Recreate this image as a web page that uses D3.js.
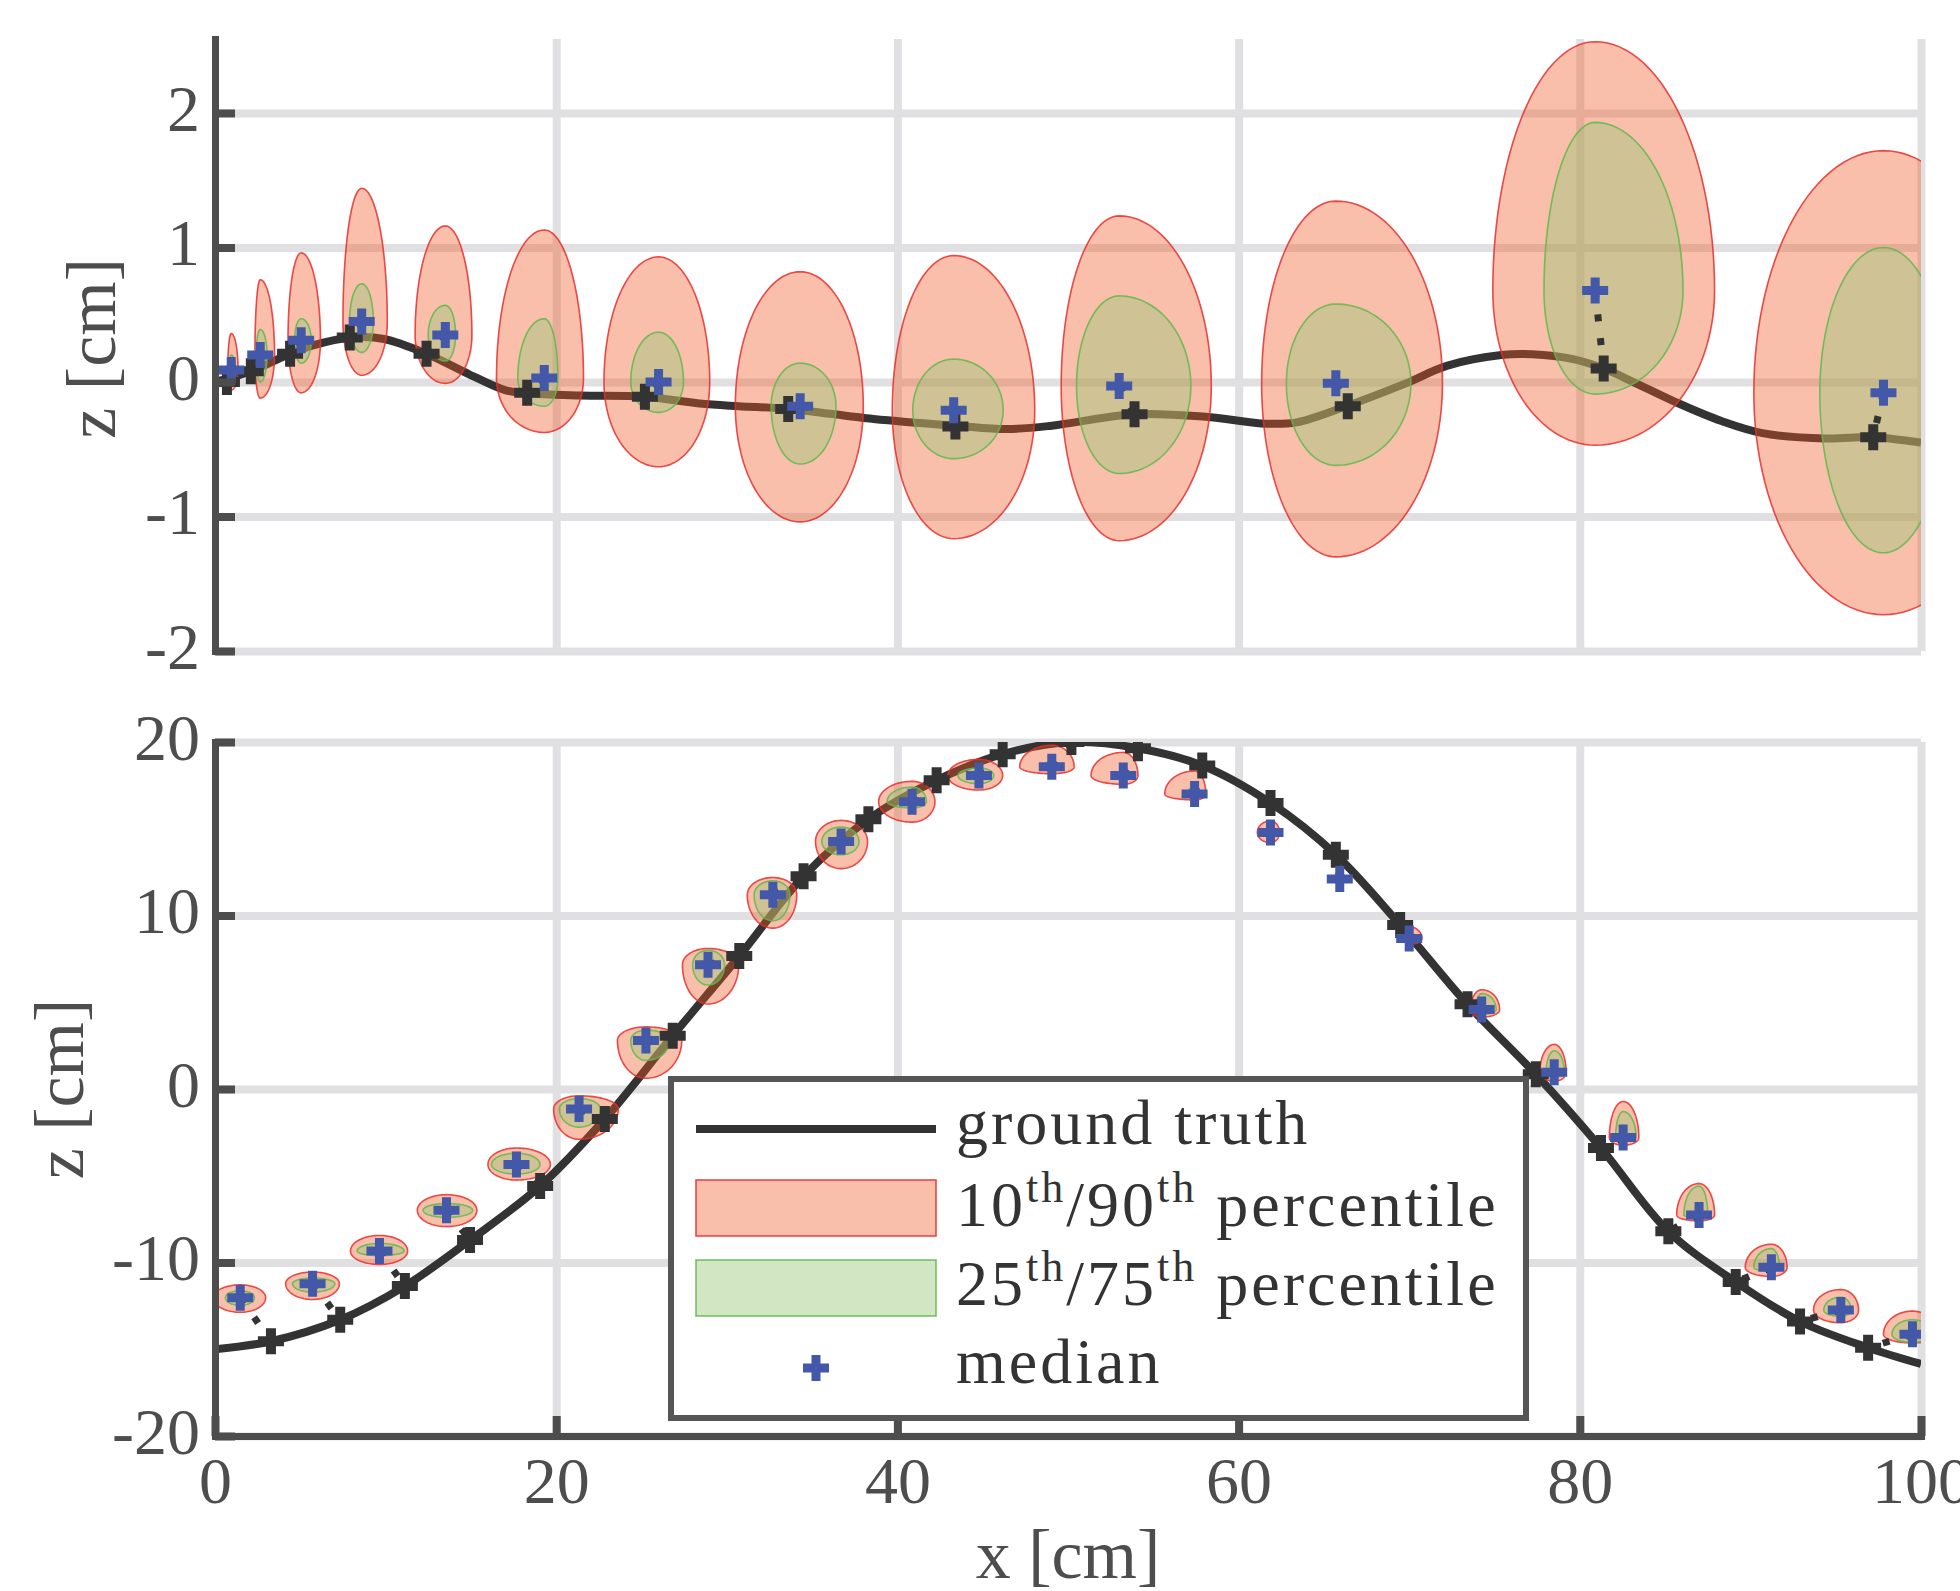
<!DOCTYPE html>
<html>
<head>
<meta charset="utf-8">
<script src="https://cdn.jsdelivr.net/npm/d3@7"></script>
<style>
  body { margin: 0; background: #fff; }
  text { font-family: "Liberation Serif", "DejaVu Serif", serif; }
</style>
</head>
<body>
<svg id="chart"></svg>
<script>
var xTicks = [0, 20, 40, 60, 80, 100];
var topYTicks = [-2, -1, 0, 1, 2];
var botYTicks = [-20, -10, 0, 10, 20];

// top panel: ground truth curve, ground truth samples, medians
var topLineX = [0, 2.1, 4.4, 5.7, 8.0, 9.9, 12.4, 14.9, 17.0, 18.3, 21.4, 25.2, 28.4, 30.7, 33.6, 38.6, 43.4, 46.4, 49.05, 53.9, 58.2, 61.6, 63.4, 66.3, 69.8, 72.2, 75.4, 77.2, 79.6, 81.4, 83.3, 85.8, 88.3, 90.7, 94.4, 97.2, 100];
var topLineZ = [0, 0.08, 0.21, 0.27, 0.33, 0.32, 0.21, 0.057, -0.06, -0.083, -0.10, -0.11, -0.16, -0.18, -0.20, -0.275, -0.325, -0.35, -0.325, -0.24, -0.26, -0.31, -0.30, -0.18, -0.01, 0.12, 0.20, 0.206, 0.17, 0.10, -0.01, -0.16, -0.29, -0.38, -0.42, -0.41, -0.45];
var topMarkX = [0.7, 2.1, 4.4, 7.9, 12.4, 18.3, 25.2, 33.6, 43.4, 53.9, 66.4, 81.4, 97.2];
var topMarkZ = [0.0, 0.08, 0.21, 0.33, 0.21, -0.08, -0.11, -0.20, -0.33, -0.24, -0.18, 0.10, -0.41];
var topMedX = [0.95, 2.65, 5.05, 8.6, 13.5, 19.3, 26.0, 34.3, 43.3, 53.0, 65.7, 80.9, 97.8];
var topMedZ = [0.09, 0.20, 0.31, 0.45, 0.35, 0.03, 0.0, -0.18, -0.21, -0.03, -0.01, 0.68, -0.08];
// [xmin, xmax, zmin, zmax]
var topOuter = [[0.75, 1.35, -0.06, 0.36], [2.34, 3.49, -0.12, 0.76], [4.28, 6.18, -0.08, 0.96], [7.5, 10.1, 0.05, 1.44],
  [11.73, 15.06, -0.01, 1.16], [16.5, 21.6, -0.375, 1.13], [22.8, 29.0, -0.63, 0.93], [30.5, 38.0, -1.04, 0.82],
  [39.7, 48.05, -1.165, 0.94], [49.6, 58.4, -1.18, 1.235], [61.35, 71.95, -1.30, 1.345], [74.9, 87.9, -0.47, 2.53],
  [90.2, 105.4, -1.73, 1.72]];
var topInner = [[0.85, 1.2, 0.0, 0.2], [2.42, 3.05, 0.0, 0.39], [4.67, 5.64, 0.14, 0.47], [7.89, 9.28, 0.22, 0.73],
  [12.5, 14.1, 0.156, 0.57], [17.75, 20.1, -0.18, 0.47], [24.37, 27.46, -0.226, 0.37], [32.6, 36.4, -0.61, 0.14],
  [40.9, 46.2, -0.57, 0.17], [50.5, 57.2, -0.68, 0.64], [62.8, 70.1, -0.62, 0.58], [77.9, 86.05, -0.09, 1.93],
  [94.07, 101.5, -1.27, 1.0]];

// bottom panel
var botLineX = [0, 3.28, 7.34, 11.13, 14.95, 19.06, 22.85, 26.83, 30.73, 34.5, 38.3, 42.3, 46.17, 50.2, 54.1, 57.87, 61.87, 65.7, 69.47, 73.42, 77.42, 81.24, 85.19, 89.14, 92.91, 96.9, 100];
var botLineZ = [-15.0, -14.54, -13.3, -11.36, -8.71, -5.59, -1.73, 3.07, 7.66, 12.26, 15.55, 17.8, 19.3, 20.0, 19.64, 18.64, 16.49, 13.5, 9.45, 4.88, 0.85, -3.4, -8.2, -11.12, -13.4, -14.91, -15.85];
var botMarkX = botLineX.slice(1, -1);
var botMarkZ = botLineZ.slice(1, -1);
var botMedX = [1.48, 5.72, 9.64, 13.57, 17.67, 21.34, 25.26, 28.9, 32.7, 36.7, 40.86, 44.78, 49.05, 53.24, 57.42, 61.87, 65.93, 70.0, 74.25, 78.5, 82.54, 86.99, 91.23, 95.3, 99.5];
var botMedZ = [-12.03, -11.22, -9.34, -6.99, -4.35, -1.15, 2.8, 7.16, 11.19, 14.27, 16.56, 18.07, 18.57, 18.07, 17.0, 14.78, 12.1, 8.67, 4.58, 0.96, -2.8, -7.26, -10.28, -12.74, -14.14];
var botOuter = [[-0.1, 2.97, -12.87, -11.29], [4.14, 7.29, -12.13, -10.55], [7.94, 11.29, -10.11, -8.44], [11.86, 15.35, -7.93, -6.09],
  [16.0, 19.66, -5.25, -3.4], [19.85, 23.64, -2.9, -0.39], [23.59, 27.36, 0.62, 3.58], [27.4, 30.7, 4.9, 8.1],
  [31.2, 34.1, 9.27, 12.19], [35.2, 38.25, 12.7, 15.48], [38.9, 42.2, 15.38, 17.73], [42.96, 46.17, 17.23, 19.0],
  [47.17, 50.36, 18.17, 19.81], [51.35, 54.1, 17.56, 19.4], [55.67, 58.08, 16.66, 18.33], [61.1, 62.4, 14.2, 15.45],
  [65.7, 66.2, 11.9, 12.3], [69.9, 70.75, 8.34, 9.35], [73.6, 75.3, 4.14, 5.72], [77.66, 79.2, 0.45, 2.57],
  [81.73, 83.46, -3.24, -0.72], [85.68, 87.9, -7.6, -5.45], [89.7, 92.15, -10.8, -8.95], [93.7, 96.34, -13.47, -11.56],
  [97.8, 101.0, -14.64, -12.8]];
var botInner = [[0.61, 2.31, -12.47, -11.63], [4.54, 7.02, -11.7, -10.9], [8.33, 11.08, -9.6, -8.9], [12.2, 15.1, -7.4, -6.6],
  [16.2, 19.05, -4.9, -3.7], [20.19, 22.59, -2.2, -0.55], [24.37, 26.65, 1.65, 3.4], [28.0, 29.87, 5.99, 8.0],
  [31.6, 33.7, 9.7, 12.0], [35.57, 37.75, 13.5, 15.1], [39.4, 41.7, 16.2, 17.4], [43.55, 45.65, 17.6, 18.5],
  [48.6, 49.5, 18.3, 18.9], [53.0, 53.6, 17.9, 18.5], [57.0, 57.7, 16.8, 17.4], [61.7, 62.1, 14.6, 15.0],
  [65.85, 66.05, 12.0, 12.2], [69.95, 70.4, 8.5, 9.0], [73.9, 75.1, 4.3, 5.5], [78.03, 79.1, 0.7, 2.2],
  [82.1, 83.3, -2.9, -1.3], [86.1, 87.5, -7.4, -5.6], [90.2, 91.7, -10.5, -9.2], [94.3, 95.9, -13.1, -12.0],
  [98.3, 100.7, -14.6, -13.3]];

var W = 1960, H = 1591;
var axisColor = '#4d4d4d', dark = '#333333', blue = '#4358a8', gridColor = '#e0e0e2';
var outerFill = 'rgb(239,87,31)', outerEdge = 'rgb(232,45,45)';
var innerFill = 'rgb(153,198,121)', innerEdge = 'rgb(95,185,75)';

var svg = d3.select('#chart').attr('width', W).attr('height', H);
svg.append('rect').attr('width', W).attr('height', H).attr('fill', '#fff');
var defs = svg.append('defs');

var x = d3.scaleLinear().domain([0, 100]).range([215, 1921]);
var yTop = d3.scaleLinear().domain([-2, 2.55]).range([651, 39]);
var yBot = d3.scaleLinear().domain([-20, 20]).range([1436, 742]);

var plusPath = function (s) { return 'M' + (-s) + ',0H' + s + 'M0,' + (-s) + 'V' + s; };

// egg-like outline from four quarter ellipses meeting at the extremes
function egg(ys, mx, mz, b) {
    var cx = x(mx), cy = ys(mz);
    var rl = cx - x(b[0]), rr = x(b[1]) - cx, rb = ys(b[2]) - cy, rt = cy - ys(b[3]);
    var pts = d3.range(0, 120).map(function (i) {
        var t = i / 120 * 2 * Math.PI, c = Math.cos(t), s = Math.sin(t);
        return [cx + (c > 0 ? rr : rl) * c, cy - (s > 0 ? rt : rb) * s];
    });
    return d3.line().curve(d3.curveLinearClosed)(pts);
}

function panel(id, ys, yTicks, showX, d) {
    var y0 = ys.range()[0], y1 = ys.range()[1];
    var g = svg.append('g');

    defs.append('clipPath').attr('id', id).append('rect')
        .attr('x', x(0)).attr('y', y1).attr('width', x(100) - x(0)).attr('height', y0 - y1);

    // grid
    g.append('g')
        .attr('transform', 'translate(' + x(0) + ',0)')
        .call(d3.axisLeft(ys).tickValues(yTicks).tickSize(-(x(100) - x(0))).tickFormat(''))
        .call(function (a) { a.select('.domain').remove(); a.selectAll('line').attr('stroke', gridColor).attr('stroke-width', 8); });
    g.append('g')
        .attr('transform', 'translate(0,' + y0 + ')')
        .call(d3.axisBottom(x).tickValues(xTicks.slice(1)).tickSize(-(y0 - y1)).tickFormat(''))
        .call(function (a) { a.select('.domain').remove(); a.selectAll('line').attr('stroke', gridColor).attr('stroke-width', 8); });

    var data = g.append('g').attr('clip-path', 'url(#' + id + ')');

    var lineGen = d3.line().curve(d3.curveCatmullRom)
        .x(function (p) { return x(p[0]); }).y(function (p) { return ys(p[1]); });
    data.append('path')
        .attr('d', lineGen(d3.zip(d.lineX, d.lineZ)))
        .attr('fill', 'none').attr('stroke', dark).attr('stroke-width', 8);

    d.medX.forEach(function (mx, i) {
        data.append('path').attr('d', egg(ys, mx, d.medZ[i], d.outer[i]))
            .attr('fill', outerFill).attr('fill-opacity', 0.38)
            .attr('stroke', outerEdge).attr('stroke-width', 1.6).attr('stroke-opacity', 0.85);
        data.append('path').attr('d', egg(ys, mx, d.medZ[i], d.inner[i]))
            .attr('fill', innerFill).attr('fill-opacity', 0.44)
            .attr('stroke', innerEdge).attr('stroke-width', 1.6).attr('stroke-opacity', 0.85);
    });

    d.medX.forEach(function (mx, i) {
        data.append('line')
            .attr('x1', x(mx)).attr('y1', ys(d.medZ[i]))
            .attr('x2', x(d.markX[i])).attr('y2', ys(d.markZ[i]))
            .attr('stroke', dark).attr('stroke-width', 7).attr('stroke-dasharray', '7 17');
    });

    data.selectAll('.gt').data(d3.zip(d.markX, d.markZ)).enter().append('path')
        .attr('transform', function (p) { return 'translate(' + x(p[0]) + ',' + ys(p[1]) + ')'; })
        .attr('d', plusPath(13)).attr('stroke', dark).attr('stroke-width', 10);

    data.selectAll('.med').data(d3.zip(d.medX, d.medZ)).enter().append('path')
        .attr('transform', function (p) { return 'translate(' + x(p[0]) + ',' + ys(p[1]) + ')'; })
        .attr('d', plusPath(13)).attr('stroke', blue).attr('stroke-width', 9);

    // y axis
    g.append('g')
        .attr('transform', 'translate(' + x(0) + ',0)')
        .call(d3.axisLeft(ys).tickValues(yTicks).tickSize(-20).tickSizeOuter(0).tickPadding(15).tickFormat(d3.format('d')))
        .call(function (a) {
            a.select('.domain').attr('stroke', axisColor).attr('stroke-width', 7).attr('stroke-linecap', 'square');
            a.selectAll('line').attr('stroke', axisColor).attr('stroke-width', 8);
            a.selectAll('text').attr('fill', axisColor).attr('font-size', 66).attr('dy', '0.26em')
                .attr('font-family', '"Liberation Serif", serif')
                .text(function (v) { return v < 0 ? '-' + Math.abs(v) : v; });
        });

    if (showX) {
        g.append('g')
            .attr('transform', 'translate(0,' + y0 + ')')
            .call(d3.axisBottom(x).tickValues(xTicks).tickSize(-20).tickSizeOuter(0).tickPadding(20))
            .call(function (a) {
                a.select('.domain').attr('stroke', axisColor).attr('stroke-width', 7).attr('stroke-linecap', 'square');
                a.selectAll('line').attr('stroke', axisColor).attr('stroke-width', 8);
                a.selectAll('text').attr('fill', axisColor).attr('font-size', 66)
                    .attr('font-family', '"Liberation Serif", serif');
            });
    }
}

panel('clipTop', yTop, topYTicks, false,
    { lineX: topLineX, lineZ: topLineZ, markX: topMarkX, markZ: topMarkZ, medX: topMedX, medZ: topMedZ, outer: topOuter, inner: topInner });
panel('clipBot', yBot, botYTicks, true,
    { lineX: botLineX, lineZ: botLineZ, markX: botMarkX, markZ: botMarkZ, medX: botMedX, medZ: botMedZ, outer: botOuter, inner: botInner });

// axis labels
svg.append('text').attr('transform', 'translate(115,' + yTop(0.25) + ') rotate(-90)')
    .attr('text-anchor', 'middle').attr('font-size', 70).attr('fill', axisColor).text('z [cm]');
svg.append('text').attr('transform', 'translate(83,' + yBot(0) + ') rotate(-90)')
    .attr('text-anchor', 'middle').attr('font-size', 70).attr('fill', axisColor).text('z [cm]');
svg.append('text').attr('x', x(50)).attr('y', 1578)
    .attr('text-anchor', 'middle').attr('font-size', 70).attr('fill', axisColor).text('x [cm]');

// legend
var leg = svg.append('g');
leg.append('rect').attr('x', 671).attr('y', 1079).attr('width', 855).attr('height', 339)
    .attr('fill', '#fff').attr('stroke', '#555').attr('stroke-width', 6);
leg.append('line').attr('x1', 696).attr('x2', 936).attr('y1', 1129).attr('y2', 1129)
    .attr('stroke', dark).attr('stroke-width', 8);
leg.append('rect').attr('x', 696).attr('y', 1180).attr('width', 240).attr('height', 56)
    .attr('fill', outerFill).attr('fill-opacity', 0.38).attr('stroke', outerEdge).attr('stroke-width', 1.6).attr('stroke-opacity', 0.85);
leg.append('rect').attr('x', 696).attr('y', 1260).attr('width', 240).attr('height', 56)
    .attr('fill', innerFill).attr('fill-opacity', 0.44).attr('stroke', innerEdge).attr('stroke-width', 1.6).attr('stroke-opacity', 0.85);
leg.append('path').attr('transform', 'translate(816,1368)').attr('d', plusPath(13))
    .attr('stroke', blue).attr('stroke-width', 9);

function legText(yb, parts) {
    var t = leg.append('text').attr('x', 956).attr('y', yb).attr('font-size', 64)
        .attr('letter-spacing', 3).attr('fill', dark);
    parts.forEach(function (p) {
        var s = t.append('tspan').text(p[0]);
        if (p[1] === 'sup') s.attr('font-size', 44).attr('dy', -24);
        if (p[1] === 'down') s.attr('dy', 24);
    });
}
legText(1144, [['ground truth']]);
legText(1226, [['10'], ['th', 'sup'], ['/90', 'down'], ['th', 'sup'], [' percentile', 'down']]);
legText(1305, [['25'], ['th', 'sup'], ['/75', 'down'], ['th', 'sup'], [' percentile', 'down']]);
legText(1383, [['median']]);
</script>
</body>
</html>
